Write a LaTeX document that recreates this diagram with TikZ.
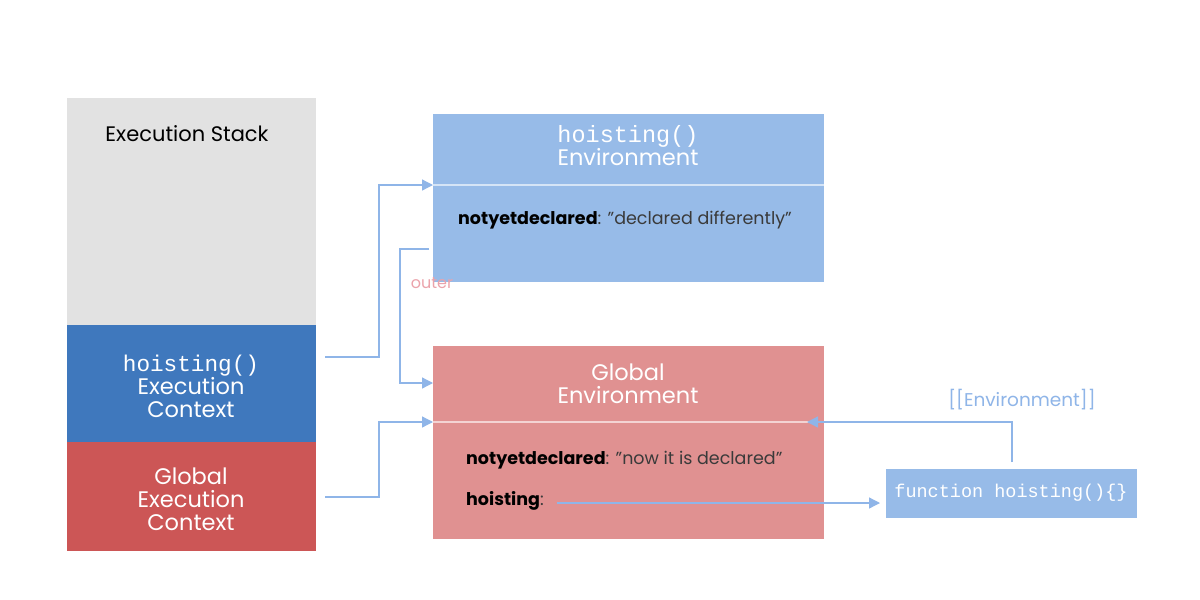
\documentclass[tikz,border=0pt]{standalone}
\usepackage{fontspec}
\setmainfont{Poppins}
\newfontfamily\codefont{Liberation Mono}
\usetikzlibrary{arrows.meta}
\definecolor{stackgray}{HTML}{E2E2E2}
\definecolor{stackblue}{HTML}{3F78BD}
\definecolor{stackred}{HTML}{CC5656}
\definecolor{envblue}{HTML}{97BBE8}
\definecolor{envred}{HTML}{E09191}
\definecolor{linkblue}{HTML}{8FB5E8}
\definecolor{outerpink}{HTML}{EBA3AB}
\definecolor{valgray}{HTML}{3A3A3A}
\tikzset{
  whitetxt/.style={text=white, align=center, inner sep=0pt, font=\fontsize{22.5}{23}\selectfont},
  link/.style={draw=linkblue, line width=1.3pt, -{Triangle[length=11pt,width=11pt]}},
  bodytxt/.style={anchor=west, inner sep=0pt, font=\fontsize{17.5}{19}\selectfont},
}
\newcommand{\qq}{\symbol{34}}
\begin{document}
\begin{tikzpicture}[x=1pt,y=-1pt]
\useasboundingbox (0,0) rectangle (1200,600);
\fill[white] (0,0) rectangle (1200,600);
% execution stack
\fill[stackgray] (67,98) rectangle (316,325);
\fill[stackblue] (67,325) rectangle (316,442);
\fill[stackred] (67,442) rectangle (316,551);
\node[inner sep=0pt, font=\fontsize{21}{23}\selectfont] (stacktitle) at (187,134) {Execution Stack};
\node[whitetxt] (hec) at (191,386) {{\codefont\fontsize{22.7}{23}\selectfont hoisting()}\\Execution\\Context};
\node[whitetxt] (gec) at (191,499) {Global\\Execution\\Context};
\coordinate (hecout) at (325,357);
\coordinate (gecout) at (325,497);
% hoisting environment
\fill[envblue] (433,114) rectangle (824,282);
\draw[draw=white!60!envblue, line width=1.3pt] (433,185) -- (824,185);
\coordinate (henvin) at (433,185);
\node[whitetxt] (henvtitle) at (628,146) {{\codefont\fontsize{23.5}{23}\selectfont hoisting()}\\Environment};
\node[bodytxt] (hval) at (458,220) {\textbf{notyetdeclared}{\color{valgray}: \qq declared differently\qq}};
\coordinate (outerstart) at (429,249);
\node[text=outerpink, inner sep=0pt, font=\fontsize{16}{18}\selectfont] (outerlbl) at (432,283) {outer};
% global environment
\fill[envred] (433,346) rectangle (824,539);
\draw[draw=white!60!envred, line width=1.3pt] (433,422) -- (824,422);
\coordinate (genvouter) at (433,383);
\coordinate (genvin) at (433,422);
\coordinate (genvright) at (807,422);
\node[whitetxt] (genvtitle) at (628,384) {Global\\Environment};
\node[bodytxt] (gval) at (466,460) {\textbf{notyetdeclared}{\color{valgray}: \qq now it is declared\qq}};
\node[bodytxt] (hoistval) at (466,501) {\textbf{hoisting}{\color{valgray}:}};
\coordinate (hoistptr) at (557,503);
% function object
\fill[envblue] (886,469) rectangle (1137,518);
\node[text=white, inner sep=0pt, font=\codefont\fontsize{18.5}{20}\selectfont] (func) at (1011,493) {function hoisting()\{\}};
\coordinate (funcin) at (880,503);
\coordinate (functop) at (1012,462);
\node[text=linkblue, inner sep=0pt, font=\fontsize{18.5}{20}\selectfont] (envlbl) at (1022,400) {[[Environment]]};
% connectors
\draw[link] (hecout) -- (379,357) |- (henvin);
\draw[link] (gecout) -- (379,497) |- (genvin);
\draw[link] (outerstart) -- (400,249) |- (genvouter);
\draw[link] (hoistptr) -- (funcin);
\draw[link] (functop) |- (genvright);
\end{tikzpicture}
\end{document}
